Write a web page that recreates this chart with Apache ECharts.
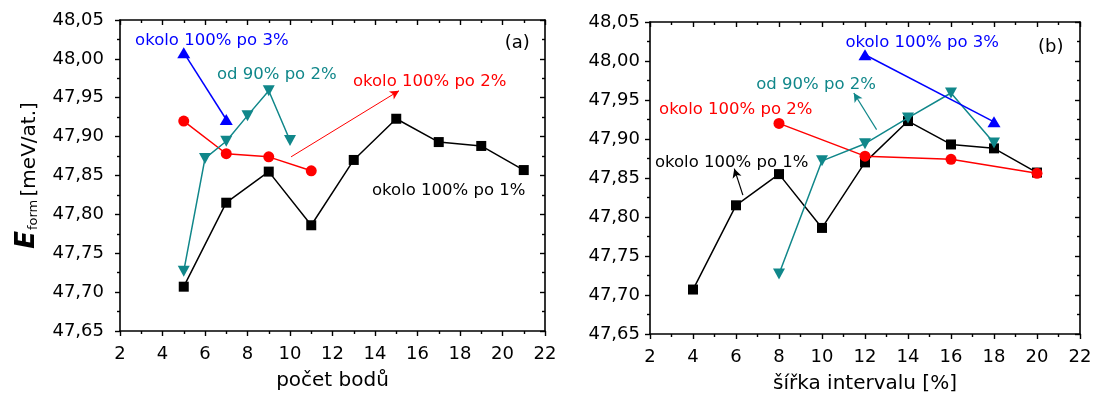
<!DOCTYPE html>
<html>
<head>
<meta charset="utf-8">
<script src="https://cdn.jsdelivr.net/npm/echarts@6/dist/echarts.min.js"></script>
<style>
  html, body { margin: 0; padding: 0; background: #fff; }
  #chart { width: 1100px; height: 403px; }
</style>
</head>
<body>
<div id="chart"></div>
<script>
// Formation energy vs. number of points (a) and interval width (b)
const countsBlack = [5, 7, 9, 11, 13, 15, 17, 19, 21];
const widthsBlack = [4, 6, 8, 10, 12, 14, 16, 18, 20];
const energyBlack = [47.707, 47.815, 47.855, 47.786, 47.870, 47.923, 47.893, 47.888, 47.857];

const countsRed = [5, 7, 9, 11];
const widthsRed = [8, 12, 16, 20];
const energyRed = [47.920, 47.878, 47.874, 47.856];

const countsTeal = [5, 6, 7, 8, 9, 10];
const widthsTeal = [8, 10, 12, 14, 16, 18];
const energyTeal = [47.727, 47.872, 47.894, 47.927, 47.959, 47.895];

const countsBlue = [5, 7];
const widthsBlue = [12, 18];
const energyBlue = [48.008, 47.922];

const xTicks = [2, 4, 6, 8, 10, 12, 14, 16, 18, 20, 22];
const yTicks = ['47,65', '47,70', '47,75', '47,80', '47,85', '47,90', '47,95', '48,00', '48,05'];

const labelBlack = 'okolo 100% po 1%';
const labelRed = 'okolo 100% po 2%';
const labelTeal = 'od 90% po 2%';
const labelBlue = 'okolo 100% po 3%';

const BLACK = '#000000', RED = '#ff0000', TEAL = '#10878a', BLUE = '#0000ff';
const FONT = '"DejaVu Sans", "Liberation Sans", sans-serif';

const zip = (xs, ys) => xs.map((x, i) => [x, ys[i]]);
const fmtY = v => v.toFixed(2).replace('.', ',');

function xAxisPair(grid, name) {
  return [
    {
      type: 'value', gridIndex: grid, position: 'bottom',
      min: xTicks[0], max: xTicks[xTicks.length - 1], interval: 2,
      name: name, nameLocation: 'middle', nameGap: 40,
      nameTextStyle: { fontFamily: FONT, fontSize: 20, color: '#000' },
      axisLine: { onZero: false, lineStyle: { color: '#000', width: 1.6 } },
      axisTick: { inside: false, length: 5, lineStyle: { width: 1.4 } },
      minorTick: { show: true, splitNumber: 2, length: 3, lineStyle: { color: '#000', width: 1.4 } },
      axisLabel: { margin: 14, fontFamily: FONT, fontSize: 18, color: '#000' },
      splitLine: { show: false }
    },
    {
      type: 'value', gridIndex: grid, position: 'top',
      min: xTicks[0], max: xTicks[xTicks.length - 1], interval: 2,
      axisLine: { onZero: false, lineStyle: { color: '#000', width: 1.6 } },
      axisTick: { inside: true, length: 5, lineStyle: { width: 1.4 } },
      minorTick: { show: true, splitNumber: 2, length: 3, lineStyle: { color: '#000', width: 1.4 } },
      axisLabel: { show: false },
      splitLine: { show: false }
    }
  ];
}

function yAxisPair(grid, name, margin) {
  const left = {
    type: 'value', gridIndex: grid, position: 'left',
    min: 47.65, max: 48.05, interval: 0.05,
    axisLine: { onZero: false, lineStyle: { color: '#000', width: 1.6 } },
    axisTick: { inside: false, length: 5, lineStyle: { width: 1.4 } },
    minorTick: { show: true, splitNumber: 2, length: 3, lineStyle: { color: '#000', width: 1.4 } },
    axisLabel: { margin: margin, fontFamily: FONT, fontSize: 18, color: '#000', formatter: fmtY },
    splitLine: { show: false }
  };
  if (name) {
    left.name = name;
    left.nameLocation = 'middle';
    left.nameRotate = 90;
    left.nameGap = 80;
    left.nameTextStyle = {
      color: '#000',
      rich: {
        e: { fontFamily: FONT, fontSize: 26, fontWeight: 'bold', fontStyle: 'italic', color: '#000' },
        s: { fontFamily: FONT, fontSize: 13, color: '#000', verticalAlign: 'bottom', padding: [0, 0, 0, 1] },
        u: { fontFamily: FONT, fontSize: 20, color: '#000', verticalAlign: 'bottom' }
      }
    };
  }
  const right = {
    type: 'value', gridIndex: grid, position: 'right',
    min: 47.65, max: 48.05, interval: 0.05,
    axisLine: { onZero: false, lineStyle: { color: '#000', width: 1.6 } },
    axisTick: { inside: true, length: 5, lineStyle: { width: 1.4 } },
    minorTick: { show: true, splitNumber: 2, length: 3, lineStyle: { color: '#000', width: 1.4 } },
    axisLabel: { show: false },
    splitLine: { show: false }
  };
  return [left, right];
}

function lineSeries(name, xi, yi, data, color, symbol, size, rotate, z) {
  return {
    type: 'line', name: name, xAxisIndex: xi, yAxisIndex: yi,
    data: data, symbol: symbol, symbolSize: size, symbolRotate: rotate || 0,
    showSymbol: true, z: z,
    lineStyle: { color: color, width: 1.5 },
    itemStyle: { color: color, borderWidth: 0 },
    emphasis: { disabled: true },
    animation: false
  };
}

function arrow(from, to, color, width) {
  return {
    silent: true, animation: false,
    symbol: ['none', 'arrow'], symbolSize: [7, 9],
    label: { show: false },
    lineStyle: { color: color, width: width, type: 'solid' },
    data: [[{ coord: from }, { coord: to }]]
  };
}

const chart = echarts.init(document.getElementById('chart'), null, { renderer: 'canvas' });

const seriesA = [
  lineSeries(labelBlack, 0, 0, zip(countsBlack, energyBlack), BLACK, 'rect', 10, 0, 2),
  lineSeries(labelRed, 0, 0, zip(countsRed, energyRed), RED, 'circle', 11, 0, 3),
  lineSeries(labelTeal, 0, 0, zip(countsTeal, energyTeal), TEAL, 'triangle', [12, 11], 180, 4),
  lineSeries(labelBlue, 0, 0, zip(countsBlue, energyBlue), BLUE, 'triangle', [13, 11], 0, 5)
];
seriesA[1].markLine = arrow([10.05, 47.874], [15.13, 47.959], RED, 1);

const seriesB = [
  lineSeries(labelBlack, 2, 2, zip(widthsBlack, energyBlack), BLACK, 'rect', 10, 0, 2),
  lineSeries(labelRed, 2, 2, zip(widthsRed, energyRed), RED, 'circle', 11, 0, 3),
  lineSeries(labelTeal, 2, 2, zip(widthsTeal, energyTeal), TEAL, 'triangle', [12, 11], 180, 4),
  lineSeries(labelBlue, 2, 2, zip(widthsBlue, energyBlue), BLUE, 'triangle', [13, 11], 0, 5)
];
seriesB[0].markLine = arrow([6.32, 47.828], [5.92, 47.862], BLACK, 1.2);
seriesB[2].markLine = arrow([12.54, 47.912], [11.48, 47.959], TEAL, 1.2);

chart.setOption({
  backgroundColor: '#fff',
  animation: false,
  grid: [
    { left: 120, top: 20, width: 425, height: 311 },
    { left: 650, top: 22, width: 430, height: 312 }
  ],
  xAxis: [...xAxisPair(0, 'počet bodů'), ...xAxisPair(1, 'šířka intervalu [%]')],
  yAxis: [...yAxisPair(0, '{e|E}{s|form} {u|[meV/at.]}', 16), ...yAxisPair(1, null, 10)],
  series: [...seriesA, ...seriesB]
});

// Text annotations, anchored in data coordinates of each panel
const notes = [
  { panel: 0, text: labelBlue, at: [2.71, 48.023], color: BLUE },
  { panel: 0, text: '(a)', at: [20.1, 48.02], color: '#000', size: 18 },
  { panel: 0, text: labelTeal, at: [6.56, 47.979], color: TEAL },
  { panel: 0, text: labelRed, at: [12.96, 47.970], color: RED },
  { panel: 0, text: labelBlack, at: [13.86, 47.831], color: BLACK },
  { panel: 1, text: labelBlue, at: [11.09, 48.023], color: BLUE },
  { panel: 1, text: '(b)', at: [20.05, 48.018], color: '#000', size: 18 },
  { panel: 1, text: labelTeal, at: [6.94, 47.970], color: TEAL },
  { panel: 1, text: labelRed, at: [2.42, 47.938], color: RED },
  { panel: 1, text: labelBlack, at: [2.23, 47.870], color: BLACK }
];

const graphic = notes.map(n => {
  const p = chart.convertToPixel({ xAxisIndex: n.panel * 2, yAxisIndex: n.panel * 2 }, n.at);
  return {
    type: 'text', x: p[0], y: p[1], z: 10, silent: true,
    style: {
      text: n.text, fill: n.color,
      font: (n.size || 16.5) + 'px ' + FONT,
      textAlign: 'left', textVerticalAlign: 'middle'
    }
  };
});
chart.setOption({ graphic: graphic });
</script>
</body>
</html>
